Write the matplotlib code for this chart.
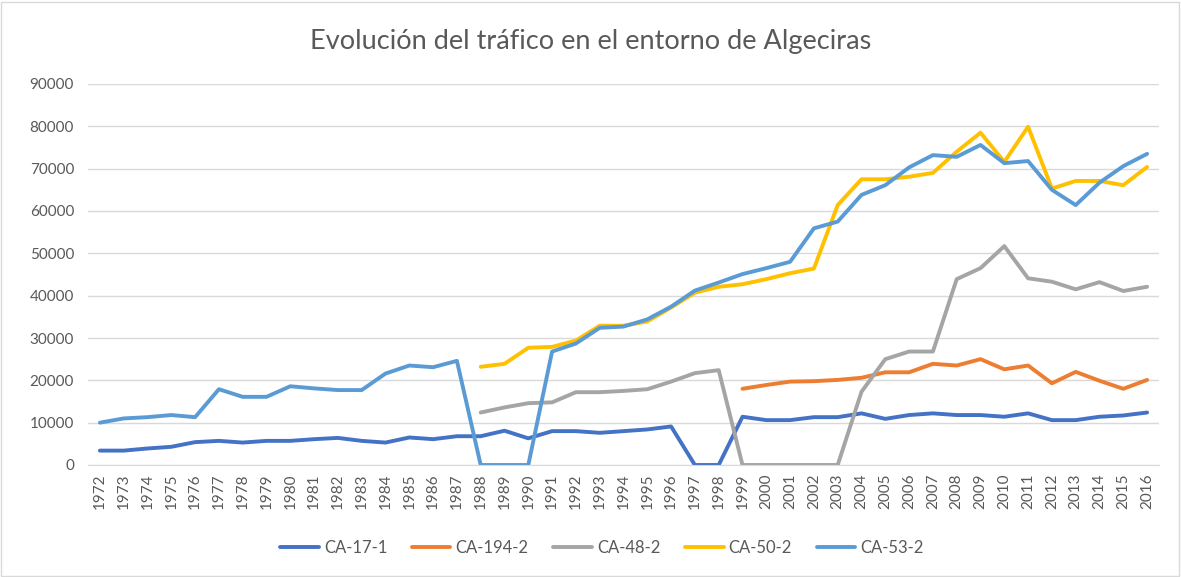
import numpy as np
import matplotlib
matplotlib.use("Agg")
import matplotlib.pyplot as plt
from matplotlib.patches import Rectangle

plt.rcParams['font.family'] = ['Lato', 'DejaVu Sans']

# years on the category axis
years = list(range(1972, 2017))

# traffic per station (None = no data point drawn)
ca_17_1 = [3400, 3400, 3900, 4300, 5400, 5700, 5300, 5700, 5700, 6100,
           6400, 5700, 5300, 6500, 6100, 6800, 6800, 8100, 6300, 8000,
           8000, 7600, 8000, 8400, 9100, 0, 0, 11400, 10600, 10600,
           11300, 11300, 12200, 10900, 11800, 12200, 11800, 11800, 11400, 12200,
           10600, 10600, 11400, 11700, 12400]
ca_194_2 = [None] * 27 + [18000, 18900, 19700, 19800, 20100, 20600, 21900, 21900,
                          23900, 23500, 25000, 22600, 23500, 19300, 22000, 19900,
                          18000, 20100]
ca_48_2 = [None] * 16 + [12400, 13600, 14600, 14800, 17200, 17200, 17500, 17900,
                         19700, 21700, 22400, 0, 0, 0, 0, 0,
                         17300, 25000, 26800, 26800, 43900, 46500, 51700, 44100,
                         43300, 41500, 43200, 41100, 42100]
ca_50_2 = [None] * 16 + [23200, 23900, 27700, 27900, 29400, 32900, 32900, 33900,
                         37200, 40700, 42100, 42700, 43900, 45300, 46400, 61400,
                         67500, 67500, 68100, 69000, 74000, 78500, 71600, 79900,
                         65300, 67100, 67100, 66100, 70400]
ca_53_2 = [10000, 11000, 11300, 11800, 11300, 17900, 16100, 16100, 18600, 18100,
           17700, 17700, 21600, 23500, 23100, 24600, 0, 0, 0, 26800,
           28700, 32400, 32700, 34400, 37400, 41200, 43100, 45100, 46500, 48000,
           55900, 57500, 63800, 66100, 70300, 73200, 72800, 75600, 71300, 71800,
           65000, 61400, 66700, 70600, 73500]

series_names = ["CA-17-1", "CA-194-2", "CA-48-2", "CA-50-2", "CA-53-2"]
series_colors = ["#4472C4", "#ED7D31", "#A5A5A5", "#FFC000", "#5B9BD5"]
series_values = [ca_17_1, ca_194_2, ca_48_2, ca_50_2, ca_53_2]

fig = plt.figure(figsize=(11.81, 5.77), dpi=100)
W, H = 1181, 577
ax = fig.add_axes([88 / W, 1 - 465 / H, (1159 - 88) / W, (465 - 84) / H])

for name, col, vals in zip(series_names, series_colors, series_values):
    y = np.array([np.nan if v is None else v for v in vals], dtype=float)
    ax.plot(years, y, color=col, lw=2.8, label=name, solid_capstyle='round',
            solid_joinstyle='round')

ax.set_xlim(1971.5, 2016.5)
ax.set_ylim(0, 90000)
ax.set_yticks(np.arange(0, 90001, 10000))
ax.set_xticks(years)
ax.set_xticklabels([str(y) for y in years], rotation=90)
ax.tick_params(axis='both', length=0, colors='#595959', labelsize=11)
ax.tick_params(axis='y', pad=10)
ax.tick_params(axis='x', pad=6)
ax.grid(axis='y', color='#D9D9D9', lw=1)
ax.set_axisbelow(True)
for s in ['top', 'right', 'left']:
    ax.spines[s].set_visible(False)
ax.spines['bottom'].set_color('#D9D9D9')

fig.text(0.5, 1 - 42 / H, "Evolución del tráfico en el entorno de Algeciras",
         ha='center', va='center', fontsize=19.5, color='#595959')

fig.legend(loc='center', bbox_to_anchor=(602 / W, 1 - 548 / H), ncol=5,
           frameon=False, fontsize=12, handlelength=2.3, columnspacing=1.5,
           handletextpad=0.3, labelcolor='#595959')

fig.patches.append(Rectangle((1 / W, 1 / H), 1 - 3 / W, 1 - 3 / H,
                             transform=fig.transFigure, fill=False,
                             edgecolor='#D9D9D9', lw=1))

fig.savefig("out.png", dpi=100)
